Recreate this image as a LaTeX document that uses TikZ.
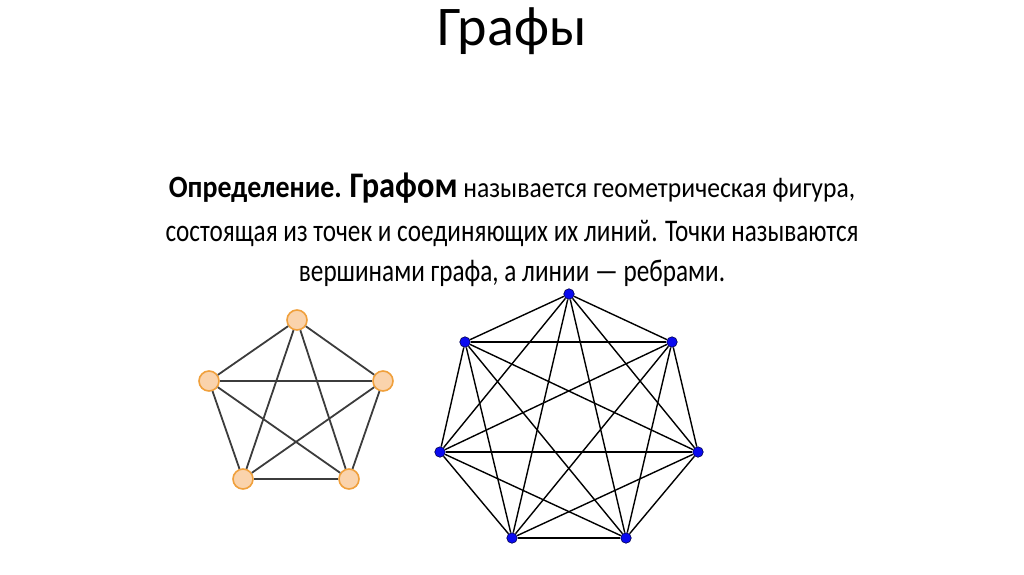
\documentclass[tikz,border=0pt]{standalone}
\usepackage{fontspec}
\setmainfont{Carlito}
\newfontfamily\leadfont[FakeStretch=0.9]{Carlito}
\newfontfamily\bodyfont[FakeStretch=0.8]{Carlito}
\definecolor{pentafill}{HTML}{FAD3AC}
\definecolor{pentaline}{HTML}{F0A03C}
\definecolor{pentaedge}{HTML}{3C3C3C}
\definecolor{heptafill}{HTML}{0A0AF0}
\tikzset{
  pvert/.style={circle, draw=pentaline, fill=pentafill, line width=1.6pt,
                minimum size=20pt, inner sep=0pt},
  hvert/.style={circle, draw=black!70!blue, fill=heptafill, line width=0.6pt,
                minimum size=10.5pt, inner sep=0pt},
  pedge/.style={draw=pentaedge, line width=1.8pt},
  hedge/.style={draw=black, line width=1.4pt},
  textline/.style={anchor=base, inner sep=0pt, font=\bodyfont\fontsize{31.5}{34}\selectfont},
}

\begin{document}
\begin{tikzpicture}[x=1pt, y=-1pt]
    \useasboundingbox (0,0) rectangle (1024,574);
    % title and definition
    \node[anchor=base, inner sep=0pt, font=\fontsize{56}{60}\selectfont] (title) at (512,45) {Графы};
    \node[textline, font=\leadfont\fontsize{28.5}{32}\selectfont] (line1) at (512,197)
      {\textbf{{\fontsize{31}{34}\selectfont Определение.} {\fontsize{36}{40}\selectfont Графом}} называется геометрическая фигура,};
    \node[textline] (line2) at (512,241) {состоящая из точек и соединяющих их линий. Точки называются};
    \node[textline] (line3) at (512,281) {вершинами графа, а линии — ребрами.};
    % K5
    \node[pvert] (p1) at (297,320) {};
    \node[pvert] (p2) at (383,381) {};
    \node[pvert] (p3) at (349,479) {};
    \node[pvert] (p4) at (243,479) {};
    \node[pvert] (p5) at (209,381) {};
    % K7
    \node[hvert] (h1) at (569,294) {};
    \node[hvert] (h2) at (672,342) {};
    \node[hvert] (h3) at (698,452) {};
    \node[hvert] (h4) at (626,538) {};
    \node[hvert] (h5) at (512,538) {};
    \node[hvert] (h6) at (440,452) {};
    \node[hvert] (h7) at (465,342) {};
    \begin{scope}[on background layer/.try]
    \foreach \i in {1,...,4} {
      \pgfmathtruncatemacro{\j}{\i+1}
      \foreach \k in {\j,...,5}
        \draw[pedge] (p\i) -- (p\k);
    }
    \foreach \i in {1,...,6} {
      \pgfmathtruncatemacro{\j}{\i+1}
      \foreach \k in {\j,...,7}
        \draw[hedge] (h\i) -- (h\k);
    }
    \end{scope}
  \end{tikzpicture}
\end{document}
